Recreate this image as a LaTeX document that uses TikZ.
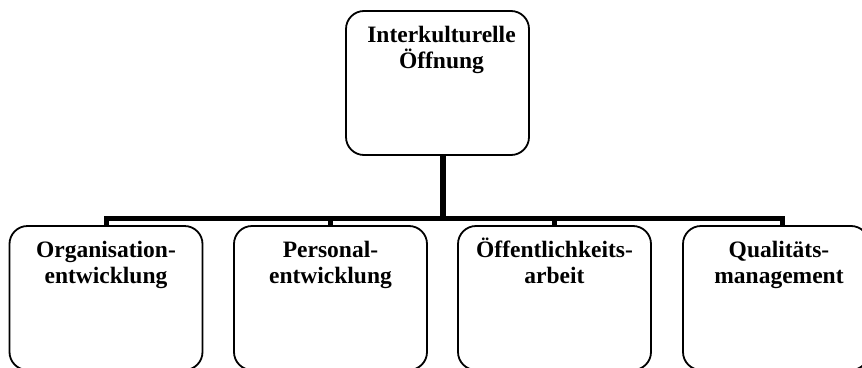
\documentclass[tikz,border=0pt]{standalone}
\usepackage{fontspec}
\setmainfont{Liberation Serif}
\usepackage{tikz}
\usetikzlibrary{calc,positioning}
\definecolor{boxline}{HTML}{000000}

\begin{document}
\begin{tikzpicture}[
    x=1pt, y=-1pt,
    orgbox/.style={rectangle, rounded corners=18pt, draw=boxline, line width=1.8pt, minimum width=193pt, minimum height=144pt, inner sep=0pt},
    orgtext/.style={anchor=base, text width=190pt, align=center, inner sep=0pt, font=\bfseries\fontsize{23.5}{26}\selectfont},
    conn/.style={draw=boxline, line width=5pt}
]
\useasboundingbox (0,0) rectangle (862,367);
\clip (0,0) rectangle (862,367);

% Top
\node[orgbox, minimum width=183pt] (top) at (437.5, 83) {};
\node[orgtext] (toptext) at ($(top.north)+(4,32)$) {Interkulturelle\\Öffnung};

% Bottom row
\node[orgbox] (org) at (106, 298) {};
\node[orgbox] (pers) at (330.5, 298) {};
\node[orgbox] (oeff) at (554.5, 298) {};
\node[orgbox, minimum width=186pt] (qual) at (776, 298) {};

\node[orgtext] (orgtext) at ($(org.north)+(0,32)$) {Organisation-\\entwicklung};
\node[orgtext] (perstext) at ($(pers.north)+(0,32)$) {Personal-\\entwicklung};
\node[orgtext] (oefftext) at ($(oeff.north)+(0,32)$) {Öffentlichkeits-\\arbeit};
\node[orgtext] (qualtext) at ($(qual.north)+(3,32)$) {Qualitäts-\\management};

% Connectors
\coordinate (bar) at (443, 218);
\draw[conn, line width=6pt] ([xshift=5.5pt]top.south) -- (bar);
\draw[conn] (org.north) |- (bar) -| ([xshift=6pt]qual.north);
\draw[conn] (pers.north) -- (pers.north |- bar);
\draw[conn] (oeff.north) -- (oeff.north |- bar);
\end{tikzpicture}
\end{document}
